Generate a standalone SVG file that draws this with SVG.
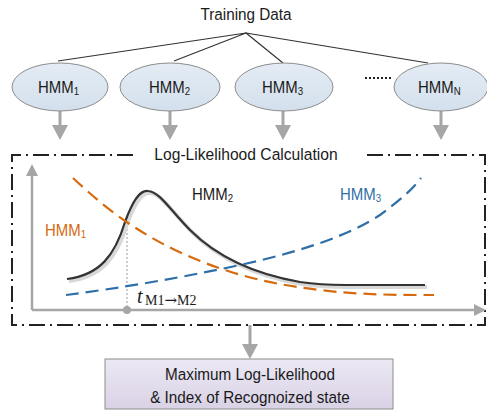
<svg xmlns="http://www.w3.org/2000/svg" width="487" height="416" viewBox="0 0 487 416">
<defs>
<linearGradient id="gEll" x1="0" y1="0" x2="0" y2="1"><stop offset="0" stop-color="#e4ecf5"/><stop offset="1" stop-color="#d3e0ec"/></linearGradient>
<linearGradient id="gBox" x1="0" y1="0" x2="0" y2="1"><stop offset="0" stop-color="#ece8f3"/><stop offset="1" stop-color="#d9d2e6"/></linearGradient>
</defs>
<style>
text{font-family:"Liberation Sans",Arial,sans-serif;fill:#1a1a1a}
.lbl{font-size:17px}
.sub{font-size:11px}
.ell{fill:url(#gEll);stroke:#8c8c8c;stroke-width:1}
.tree{stroke:#333;stroke-width:1.2;fill:none}
.down{stroke:#a6a6a6;stroke-width:3;fill:none}
.head{fill:#a6a6a6}
.frame{stroke:#222;stroke-width:2;fill:none;stroke-dasharray:16 5 2 5}
.axis{stroke:#a6a6a6;stroke-width:2.5;fill:none}
.serif{font-family:"Liberation Serif","Times New Roman",serif}
</style>
<text class="lbl" transform="translate(246,20) scale(0.9,1)" text-anchor="middle">Training Data</text>
<g id="connectors">
<path class="tree" d="M246,33 L58,61 M246,33 L174,61 M246,33 L283,63 M246,33 L428,63"/>
<path class="down" d="M60,111 V126 M170,111 V126 M283,111 V126 M441,111 V126 M250,325 V346"/>
<path class="head" d="M52,125 h16 l-8,15 z M162,125 h16 l-8,15 z M275,125 h16 l-8,15 z M433,125 h16 l-8,15 z M242,344 h16 l-8,15 z"/>
<path d="M365,78 H393" stroke="#222" stroke-width="2" stroke-dasharray="2 2"/>
</g>
<g id="hmm1"><ellipse class="ell" cx="60" cy="87" rx="48" ry="24"/><text class="lbl" transform="translate(38,93) scale(0.88,1)">HMM<tspan class="sub" dy="2">1</tspan></text></g>
<g id="hmm2"><ellipse class="ell" cx="170" cy="87" rx="50" ry="24"/><text class="lbl" transform="translate(149,93) scale(0.88,1)">HMM<tspan class="sub" dy="2">2</tspan></text></g>
<g id="hmm3"><ellipse class="ell" cx="284" cy="87" rx="49" ry="24"/><text class="lbl" transform="translate(262,93) scale(0.88,1)">HMM<tspan class="sub" dy="2">3</tspan></text></g>
<g id="hmmN"><ellipse class="ell" cx="441" cy="87" rx="47" ry="24"/><text class="lbl" transform="translate(418,93) scale(0.88,1)">HMM<tspan class="sub" dy="2">N</tspan></text></g>
<g id="calc">
<path class="frame" d="M133,155 H12 V325 H485 V155 H362"/>
<text class="lbl" transform="translate(246,160) scale(0.92,1)" text-anchor="middle">Log-Likelihood Calculation</text>
<path class="axis" d="M32,310 V174 M32,310 H476"/>
<path class="head" d="M26,176 L32,164 L38,176 z M474,304 L486,310 L474,316 z"/>
<path d="M127,217 V310" stroke="#999" stroke-width="1" stroke-dasharray="2 2"/>
<circle cx="127" cy="310" r="4" fill="#a6a6a6"/>
<path d="M67,279 C100,275 115,255 125,222 C133,200 140,190 148,191 C160,192 170,210 190,230 C220,260 260,275 300,282 C320,285 340,285 345,285 L425,285" fill="none" stroke="#d8d8d8" stroke-width="4" transform="translate(2,2)"/>
<path d="M67,279 C100,275 115,255 125,222 C133,200 140,190 148,191 C160,192 170,210 190,230 C220,260 260,275 300,282 C320,285 340,285 345,285 L425,285" fill="none" stroke="#333" stroke-width="2.2"/>
<path d="M73,178 C102,205 130,228 175,250 C220,271 260,283 320,290 C360,295 400,295 434,295" fill="none" stroke="#d66a0f" stroke-width="2.2" stroke-dasharray="13 7"/>
<path d="M66,295 C120,288 180,278 240,265 C300,252 350,235 380,215 C400,200 412,190 421,178" fill="none" stroke="#2f6fa8" stroke-width="2.2" stroke-dasharray="13 7"/>
<text class="lbl" transform="translate(192,200) scale(0.88,1)">HMM<tspan class="sub" dy="2">2</tspan></text>
<text class="lbl" transform="translate(45,236) scale(0.88,1)" style="fill:#d66a0f">HMM<tspan class="sub" dy="2" style="fill:#d66a0f">1</tspan></text>
<text class="lbl" transform="translate(340,200) scale(0.88,1)" style="fill:#2f6fa8">HMM<tspan class="sub" dy="2" style="fill:#2f6fa8">3</tspan></text>
<text class="serif" x="137" y="303" style="font-size:20px;font-style:italic">t</text>
<text class="serif" x="145" y="305" style="font-size:14px">M1<tspan style="font-family:'DejaVu Serif',serif;font-size:15px">→</tspan>M2</text>
</g>
<g id="result">
<rect x="105" y="359" width="288" height="50" fill="url(#gBox)" stroke="#8c8c8c" stroke-width="1"/>
<text transform="translate(250,380) scale(0.9,1)" text-anchor="middle" style="font-size:17px">Maximum Log-Likelihood</text>
<text transform="translate(250,403) scale(0.9,1)" text-anchor="middle" style="font-size:17px">&amp; Index of Recognoized state</text>
</g>
</svg>
